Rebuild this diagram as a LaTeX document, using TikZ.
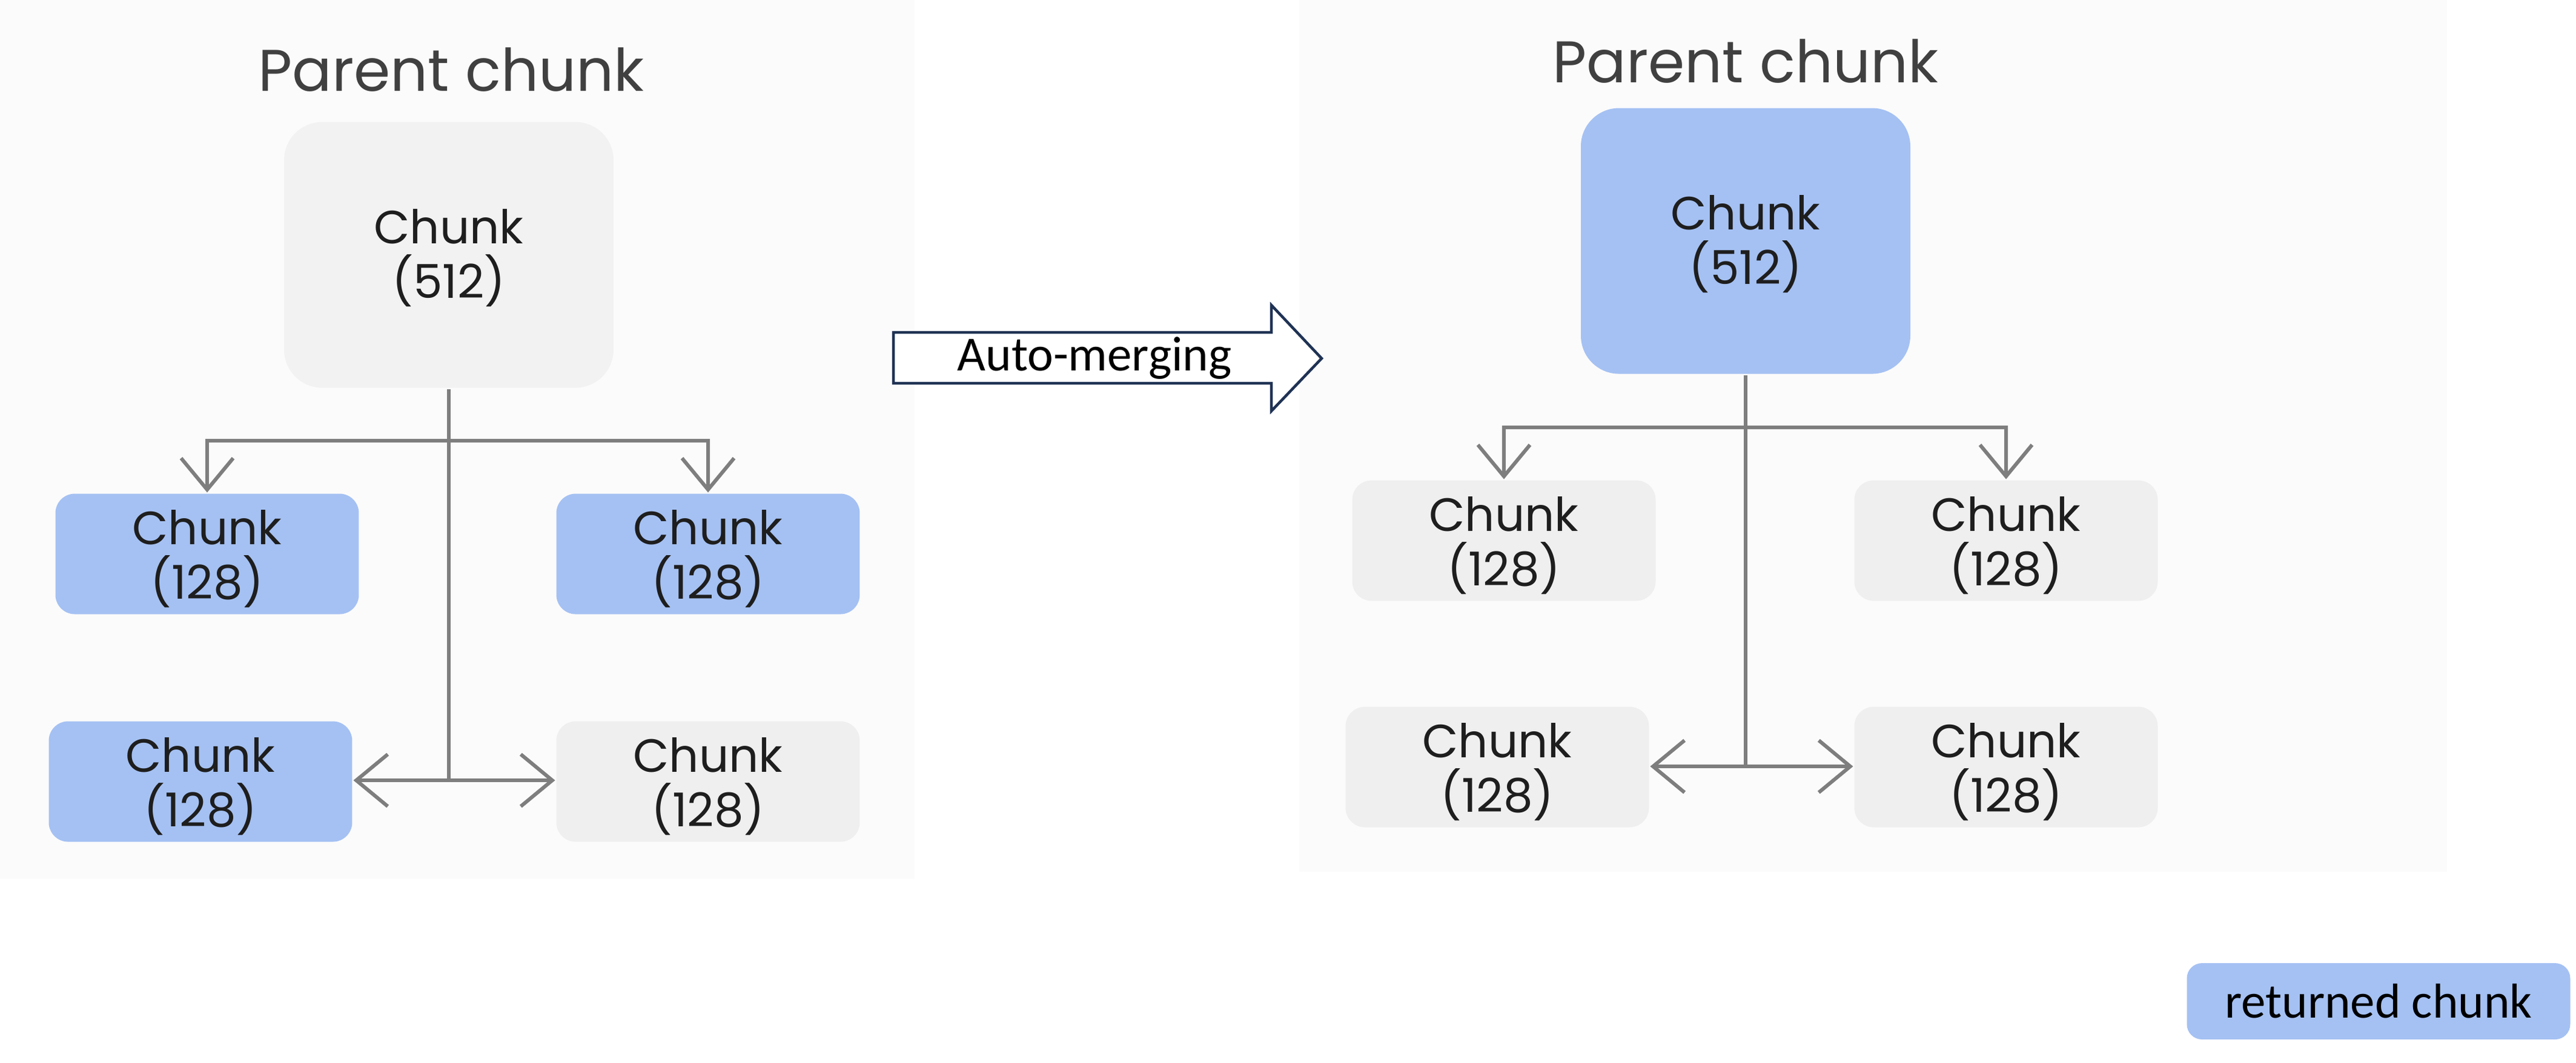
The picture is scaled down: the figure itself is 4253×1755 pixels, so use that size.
\documentclass[tikz,border=0pt]{standalone}
\usepackage{fontspec}
\newfontfamily\popfont{Poppins}
\newfontfamily\calibfont{Carlito}
\usetikzlibrary{arrows.meta}
\definecolor{chunkblue}{HTML}{A5C1F3}
\definecolor{chunkgray}{HTML}{EFEFEF}
\definecolor{parentgray}{HTML}{F2F2F2}
\definecolor{panelgray}{HTML}{FBFBFB}
\definecolor{linegray}{HTML}{7E7E7E}
\definecolor{chunktext}{HTML}{1E1E1E}
\definecolor{titletext}{HTML}{404040}
\definecolor{navy}{HTML}{1F3254}
\newcommand\smallchunk{\rule{0pt}{7.3pt}Chunk\\(128)}
\newcommand\bigchunk{\rule{0pt}{6.8pt}Chunk\\(512)}
\tikzset{
  chunkbox/.style={rectangle, rounded corners=3.2pt, inner sep=0pt, align=center,
    font=\popfont\fontsize{7.7}{9.0}\selectfont, text=chunktext,
    minimum width=50.1pt, minimum height=19.9pt},
  parentbox/.style={chunkbox, rounded corners=6.3pt, minimum width=54.4pt, minimum height=43.9pt},
  blue/.style={fill=chunkblue},
  grayfill/.style={fill=chunkgray},
  titlelabel/.style={font=\popfont\fontsize{9.7}{12}\selectfont, text=titletext, inner sep=0pt, anchor=base},
  conn/.style={draw=linegray, line width=0.6pt},
  conntip/.style={conn, -{Straight Barb[length=5.2pt,width=8.6pt]}},
  mergearrow/.style={draw=navy, line width=0.45pt, fill=white, line join=miter},
  calibtext/.style={font=\calibfont\fontsize{8.1}{9.7}\selectfont, text=black, inner sep=0pt}
}
\begin{document}
\begin{tikzpicture}[x=0.1pt,y=-0.1pt]
\useasboundingbox (0,0) rectangle (4253,1755);
\fill[white] (0,0) rectangle (4253,1755);
% faint screenshot panels
\fill[panelgray] (0,0) rectangle (1510,1452);
\fill[panelgray] (2145,0) rectangle (4040,1440);

% ---------- left tree ----------
\node[titlelabel] (ltitle) at (745,150) {Parent chunk};
\node[parentbox, fill=parentgray] (lp) at (741,421) {\bigchunk};
\node[chunkbox, blue] (lc1) at (342,915) {\smallchunk};
\node[chunkbox, blue] (lc2) at (1169,915) {\smallchunk};
\node[chunkbox, blue] (lc3) at (331,1291) {\smallchunk};
\node[chunkbox, grayfill] (lc4) at (1169,1291) {\smallchunk};
\coordinate (lj1) at (741,728);
\coordinate (lj2) at (741,1289);
\draw[conn] (lp.south) -- (lj1) -- (lj2);
\draw[conntip] (lj1) -| (lc1.north);
\draw[conntip] (lj1) -| (lc2.north);
\draw[conntip] (lj2) -- (lj2 -| lc3.east);
\draw[conntip] (lj2) -- (lj2 -| lc4.west);

% ---------- auto-merging arrow ----------
\draw[mergearrow] (1475,549) -- (2099,549) -- (2099,504) -- (2182,592)
  -- (2099,679) -- (2099,633) -- (1475,633) -- cycle;
\node[calibtext] (merge) at (1807,592) {Auto-merging};

% ---------- right tree ----------
\node[titlelabel] (rtitle) at (2882,136) {Parent chunk};
\node[parentbox, blue] (rp) at (2882,398) {\bigchunk};
\node[chunkbox, grayfill] (rc1) at (2483,893) {\smallchunk};
\node[chunkbox, grayfill] (rc2) at (3312,893) {\smallchunk};
\node[chunkbox, grayfill] (rc3) at (2472,1267) {\smallchunk};
\node[chunkbox, grayfill] (rc4) at (3312,1267) {\smallchunk};
\coordinate (rj1) at (2882,706);
\coordinate (rj2) at (2882,1266);
\draw[conn] (rp.south) -- (rj1) -- (rj2);
\draw[conntip] (rj1) -| (rc1.north);
\draw[conntip] (rj1) -| (rc2.north);
\draw[conntip] (rj2) -- (rj2 -| rc3.east);
\draw[conntip] (rj2) -- (rj2 -| rc4.west);

% ---------- legend ----------
\node[calibtext, fill=chunkblue, rounded corners=2.5pt, minimum width=63.3pt, minimum height=12.6pt] (legend) at (3927,1654) {returned chunk};
\end{tikzpicture}
\end{document}
